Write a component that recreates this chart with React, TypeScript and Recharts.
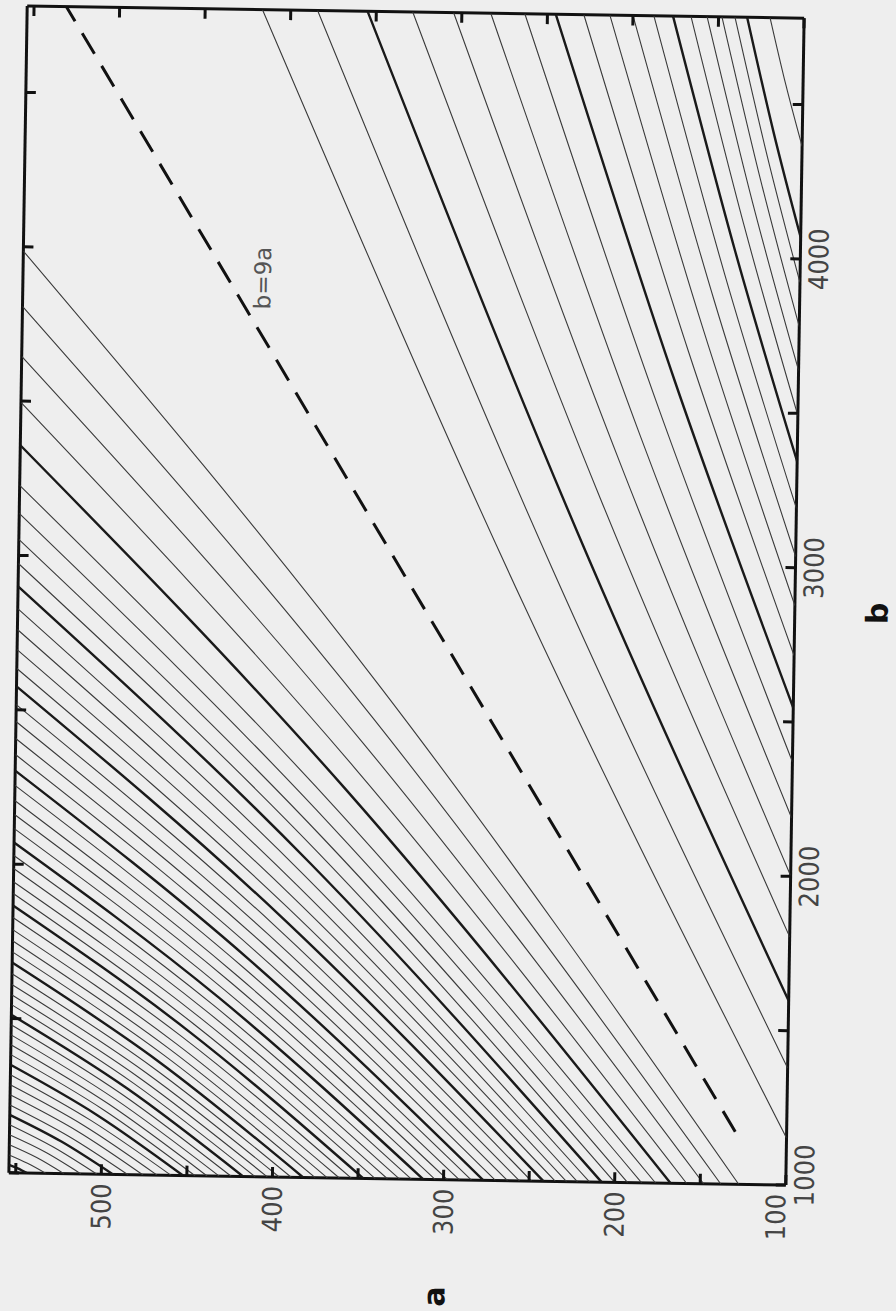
import React from 'react';
import { ScatterChart, Scatter, XAxis, YAxis } from 'recharts';

const A_DOMAIN: [number, number] = [100, 554];
const B_DOMAIN: [number, number] = [1000, 4780];
const A_TICKS = [100, 150, 200, 250, 300, 350, 400, 450, 500, 550];
const B_TICKS = [1000, 1500, 2000, 2500, 3000, 3500, 4000, 4500];
const A_LABELED = [100, 200, 300, 400, 500];
const B_LABELED = [1000, 2000, 3000, 4000];

type P = [number, number];

const dashedB9a: P[] = [[130, 1170], [531, 4779]];
const ratioLabel = [{ a: 414, b: 3911, text: 'b=9a' }];

// contours below the b=9a line: [a, b], entering at the left edge, leaving at the bottom edge
const E01: P[] = [[554, 3986], [340.8, 2588], [127.5, 1000]];
const E02: P[] = [[554, 3807], [346, 2495], [138, 1000]];
const E03: P[] = [[554, 3645], [351, 2410], [148, 1000]];
const E04: P[] = [[554, 3496], [356, 2331], [157.9, 1000]];
const E05: P[] = [[554, 3357], [360.7, 2259], [167.3, 1000]];
const E06: P[] = [[554, 3227], [365.1, 2190], [176.1, 1000]];
const E07: P[] = [[554, 3136], [369.1, 2142], [184.2, 1000]];
const E08: P[] = [[554, 3052], [373.2, 2098], [192.4, 1000]];
const E09: P[] = [[554, 2974], [377, 2057], [200, 1000]];
const E10: P[] = [[554, 2900], [380.8, 2018], [207.6, 1000]];
const E11: P[] = [[554, 2828], [384.4, 1980], [214.7, 1000]];
const E12: P[] = [[554, 2760], [387.9, 1944], [221.7, 1000]];
const E13: P[] = [[554, 2695], [391.1, 1910], [228.1, 1000]];
const E14: P[] = [[554, 2634], [394.3, 1877], [234.6, 1000]];
const E15: P[] = [[554, 2576], [397.8, 1846], [241.6, 1000]];
const E16: P[] = [[554, 2517], [401.3, 1816], [248.6, 1000]];
const E17: P[] = [[554, 2462], [404.8, 1786], [255.6, 1000]];
const E18: P[] = [[554, 2407], [408.3, 1758], [262.6, 1000]];
const E19: P[] = [[554, 2355], [411.9, 1730], [269.7, 1000]];
const E20: P[] = [[554, 2303], [415.4, 1702], [276.7, 1000]];
const E21: P[] = [[554, 2255], [418.9, 1677], [283.7, 1000]];
const E22: P[] = [[554, 2206], [422.4, 1650], [290.7, 1000]];
const E23: P[] = [[554, 2161], [425.9, 1627], [297.7, 1000]];
const E24: P[] = [[554, 2115], [429.4, 1602], [304.8, 1000]];
const E25: P[] = [[554, 2070], [432.9, 1578], [311.8, 1000]];
const E26: P[] = [[554, 2028], [436.4, 1555], [318.8, 1000]];
const E27: P[] = [[554, 1986], [439.9, 1533], [325.8, 1000]];
const E28: P[] = [[554, 1943], [443.4, 1511], [332.8, 1000]];
const E29: P[] = [[554, 1905], [447, 1490], [339.9, 1000]];
const E30: P[] = [[554, 1866], [450.5, 1469], [346.9, 1000]];
const E31: P[] = [[554, 1827], [454, 1449], [353.9, 1000]];
const E32: P[] = [[554, 1788], [457.5, 1427], [360.9, 1000]];
const E33: P[] = [[554, 1752], [461, 1408], [367.9, 1000]];
const E34: P[] = [[554, 1716], [464.5, 1389], [375, 1000]];
const E35: P[] = [[554, 1681], [468, 1370], [382, 1000]];
const E36: P[] = [[554, 1645], [471.5, 1351], [389, 1000]];
const E37: P[] = [[554, 1610], [475, 1332], [396, 1000]];
const E38: P[] = [[554, 1577], [478.5, 1314], [403, 1000]];
const E39: P[] = [[554, 1545], [482.1, 1297], [410.1, 1000]];
const E40: P[] = [[554, 1512], [485.6, 1279], [417.1, 1000]];
const E41: P[] = [[554, 1480], [489.1, 1262], [424.1, 1000]];
const E42: P[] = [[554, 1447], [492.6, 1244], [431.1, 1000]];
const E43: P[] = [[554, 1415], [496.1, 1227], [438.2, 1000]];
const E44: P[] = [[554, 1383], [499.6, 1210], [445.2, 1000]];
const E45: P[] = [[554, 1350], [503.1, 1192], [452.2, 1000]];
const E46: P[] = [[554, 1318], [506.6, 1174], [459.2, 1000]];
const E47: P[] = [[554, 1285], [510.7, 1157], [467.4, 1000]];
const E48: P[] = [[554, 1253], [514.8, 1140], [475.6, 1000]];
const E49: P[] = [[554, 1220], [519.2, 1121], [484.4, 1000]];
const E50: P[] = [[554, 1188], [523.6, 1104], [493.1, 1000]];
const E51: P[] = [[554, 1156], [528.3, 1086], [502.5, 1000]];
const E52: P[] = [[554, 1123], [533, 1069], [511.9, 1000]];
const E53: P[] = [[554, 1091], [537.9, 1051], [521.8, 1000]];
const E54: P[] = [[554, 1058], [543.2, 1032], [532.3, 1000]];
const E55: P[] = [[554, 1026], [548.8, 1015], [543.5, 1000]];

// contours above the b=9a line: entering at the top edge, leaving at the right edge
const C00: P[] = [[416.5, 4780], [258.3, 2865], [100, 1152]];
const C01: P[] = [[384.3, 4780], [242.2, 2986], [100, 1379]];
const C02: P[] = [[355.1, 4780], [227.6, 3102], [100, 1597]];
const C03: P[] = [[328.7, 4780], [214.4, 3211], [100, 1804]];
const C04: P[] = [[304.8, 4780], [202.4, 3316], [100, 2002]];
const C05: P[] = [[283.1, 4780], [191.6, 3415], [100, 2190]];
const C06: P[] = [[263.2, 4780], [181.6, 3512], [100, 2371]];
const C07: P[] = [[245.1, 4780], [172.6, 3604], [100, 2546]];
const C08: P[] = [[228.7, 4780], [164.4, 3693], [100, 2715]];
const C09: P[] = [[213.5, 4780], [156.8, 3779], [100, 2877]];
const C10: P[] = [[200, 4780], [150, 3862], [100, 3036]];
const C11: P[] = [[187.8, 4780], [143.9, 3944], [100, 3192]];
const C12: P[] = [[176.6, 4780], [138.3, 4025], [100, 3344]];
const C13: P[] = [[166.1, 4780], [133.1, 4104], [100, 3493]];
const C14: P[] = [[156.7, 4780], [128.4, 4180], [100, 3639]];
const C15: P[] = [[148, 4780], [124, 4255], [100, 3781]];
const C16: P[] = [[140.4, 4780], [120.2, 4330], [100, 3924]];
const C17: P[] = [[133.3, 4780], [116.7, 4407], [100, 4070]];
const C18: P[] = [[119.9, 4780], [110, 4562], [100, 4365]];

const BELOW = [E01, E02, E03, E04, E05, E06, E07, E08, E09, E10, E11, E12, E13, E14, E15, E16, E17, E18,
  E19, E20, E21, E22, E23, E24, E25, E26, E27, E28, E29, E30, E31, E32, E33, E34, E35, E36, E37, E38,
  E39, E40, E41, E42, E43, E44, E45, E46, E47, E48, E49, E50, E51, E52, E53, E54, E55];
const ABOVE = [C00, C01, C02, C03, C04, C05, C06, C07, C08, C09, C10, C11, C12, C13, C14, C15, C16, C17, C18];
const BOLD_BELOW = [4, 9, 14, 19, 24, 29, 34, 39, 44, 49, 54];
const BOLD_ABOVE = [2, 7, 12, 17];

const toPts = (arr: P[]) => arr.map(([a, b]) => ({ a, b }));
const Empty = () => <g />;

const FONT_TICK = 'DejaVu Sans Condensed, DejaVu Sans, sans-serif';

const BottomTick = (props: any) => {
  const { x, y, payload } = props;
  const v = payload.value;
  const lab = A_LABELED.includes(v);
  const dx = v === 100 ? -10 : 0;
  return (
    <g>
      <line x1={x} y1={y} x2={x} y2={y - 10} stroke="#111" strokeWidth={3} />
      {lab && (
        <text transform={`translate(${x + dx},${y + 9}) rotate(-90)`} textAnchor="end" dy="0.36em"
          fontFamily={FONT_TICK} fontSize={27} fill="#444">{v}</text>
      )}
    </g>
  );
};
const TopTick = (props: any) => {
  const { x, y } = props;
  return <line x1={x} y1={y} x2={x} y2={y + 10} stroke="#111" strokeWidth={3} />;
};
const RightTick = (props: any) => {
  const { x, y, payload } = props;
  const v = payload.value;
  const lab = B_LABELED.includes(v);
  const dy = v === 1000 ? -10 : 0;
  return (
    <g>
      <line x1={x} y1={y} x2={x - 10} y2={y} stroke="#111" strokeWidth={3} />
      {lab && (
        <text transform={`translate(${x + 28},${y + dy}) rotate(-90)`} textAnchor="middle"
          fontFamily={FONT_TICK} fontSize={27} fill="#444">{v}</text>
      )}
    </g>
  );
};
const LeftTick = (props: any) => {
  const { x, y } = props;
  return <line x1={x} y1={y} x2={x + 10} y2={y} stroke="#111" strokeWidth={3} />;
};

const LabelText = (props: any) => {
  const { cx, cy, payload } = props;
  return (
    <text transform={`translate(${cx},${cy}) rotate(-90)`} textAnchor="middle" dy="0.36em"
      fontFamily="DejaVu Sans, sans-serif" fontSize={23} fill="#555">{payload.text}</text>
  );
};

const ATitle = (props: any) => {
  const vb = props.viewBox;
  const x = vb.x + vb.width * 0.549;
  const y = vb.y + 117;
  return (
    <text transform={`translate(${x},${y}) rotate(-90)`} textAnchor="middle" dy="0.36em"
      fontFamily="DejaVu Sans, sans-serif" fontWeight="bold" fontSize={30} fill="#111">a</text>
  );
};
const BTitle = (props: any) => {
  const vb = props.viewBox;
  const x = vb.x + 82;
  const y = vb.y + vb.height * 0.509;
  return (
    <text transform={`translate(${x},${y}) rotate(-90)`} textAnchor="middle" dy="0.36em"
      fontFamily="DejaVu Sans, sans-serif" fontWeight="bold" fontSize={30} fill="#111">b</text>
  );
};

const renderCurve = (pts: P[], bold: boolean, key: string) => (
  <Scatter key={key} xAxisId="a" yAxisId="b" data={toPts(pts)} fill="#222"
    line={{ stroke: bold ? '#1a1a1a' : '#3a3a3a', strokeWidth: bold ? 2.4 : 1.1 }} lineJointType="natural"
    shape={<Empty />} isAnimationActive={false} />
);

export default function App() {
  return (
    <div style={{ position: 'absolute', left: 0, top: 0, width: 896, height: 1311, background: '#eeeeee', overflow: 'hidden' }}>
      <div style={{ transform: 'rotate(0.9deg)', transformOrigin: '406px 595px', width: 896, height: 1311 }}>
        <ScatterChart width={896} height={1311} margin={{ top: 11, left: 17, right: 41, bottom: 72 }}>
          <XAxis xAxisId="a" dataKey="a" type="number" orientation="bottom" domain={A_DOMAIN} reversed
            allowDataOverflow ticks={A_TICKS} interval={0} height={60} tickLine={false} tickSize={0} tickMargin={0}
            tick={<BottomTick />} axisLine={{ stroke: '#111', strokeWidth: 3 }} label={<ATitle />} />
          <XAxis xAxisId="top" dataKey="a" type="number" orientation="top" domain={A_DOMAIN} reversed
            allowDataOverflow ticks={A_TICKS} interval={0} height={1} tickLine={false} tickSize={0} tickMargin={0}
            tick={<TopTick />} axisLine={{ stroke: '#111', strokeWidth: 3 }} />
          <YAxis yAxisId="b" dataKey="b" type="number" orientation="right" domain={B_DOMAIN}
            allowDataOverflow ticks={B_TICKS} interval={0} width={60} tickLine={false} tickSize={0} tickMargin={0}
            tick={<RightTick />} axisLine={{ stroke: '#111', strokeWidth: 3 }} label={<BTitle />} />
          <YAxis yAxisId="left" dataKey="b" type="number" orientation="left" domain={B_DOMAIN}
            allowDataOverflow ticks={B_TICKS} interval={0} width={1} tickLine={false} tickSize={0} tickMargin={0}
            tick={<LeftTick />} axisLine={{ stroke: '#111', strokeWidth: 3 }} />
          {BELOW.map((c, i) => renderCurve(c, BOLD_BELOW.includes(i), `e${i}`))}
          {ABOVE.map((c, i) => renderCurve(c, BOLD_ABOVE.includes(i), `c${i}`))}
          <Scatter xAxisId="top" yAxisId="left" data={toPts(dashedB9a)} fill="#111"
            line={{ stroke: '#111', strokeWidth: 3, strokeDasharray: '24 14' }} shape={<Empty />}
            isAnimationActive={false} />
          <Scatter xAxisId="top" yAxisId="left" data={ratioLabel} shape={<LabelText />} isAnimationActive={false} />
        </ScatterChart>
      </div>
    </div>
  );
}
